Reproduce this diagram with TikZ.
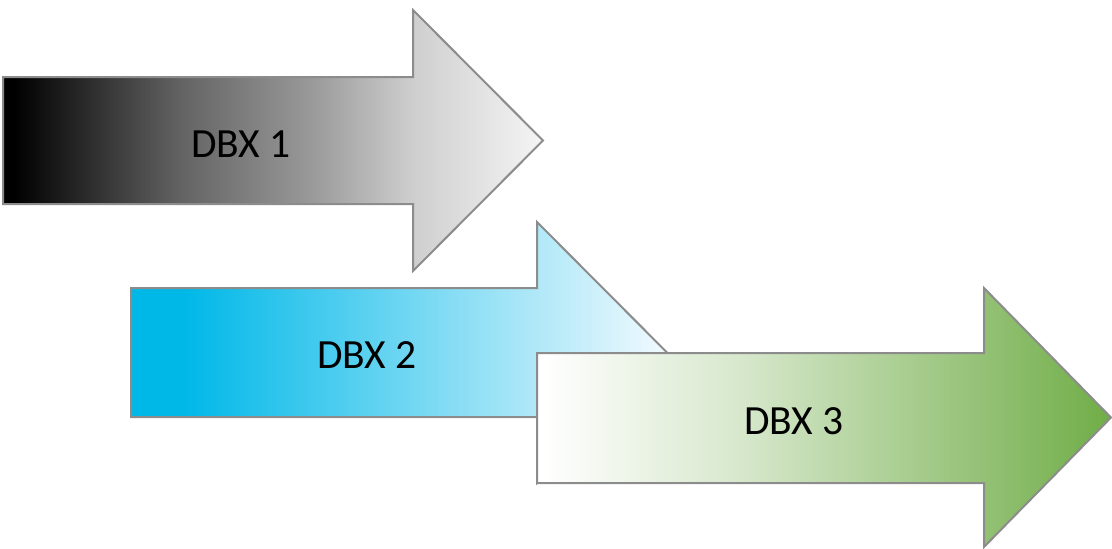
\documentclass[tikz,border=0pt]{standalone}
\usepackage{fontspec}
\setmainfont{Carlito}

% fill colours for the three arrows
\definecolor{edgegray}{HTML}{8C8C8C}
\definecolor{cyanA}{HTML}{00B8E8}
\definecolor{cyanW}{HTML}{F2FAFE}
\definecolor{greenA}{HTML}{70AD47}
\definecolor{greenL}{HTML}{D6E7CB}

% horizontal fades: the path spans 25bp .. 75bp of each shading
\pgfdeclarehorizontalshading{grayfade}{100bp}{%
  color(0bp)=(black); color(26bp)=(black);
  color(41.5bp)=(black!61); color(53.5bp)=(black!40);
  color(63bp)=(black!19); color(75bp)=(black!4); color(100bp)=(black!4)}
\pgfdeclarehorizontalshading{cyanfade}{100bp}{%
  color(0bp)=(cyanA); color(30bp)=(cyanA);
  color(75bp)=(cyanW); color(100bp)=(cyanW)}
\pgfdeclarehorizontalshading{greenfade}{100bp}{%
  color(0bp)=(white); color(25.5bp)=(white);
  color(43bp)=(greenL); color(75bp)=(greenA); color(100bp)=(greenA)}

\tikzset{
  blockarrow/.style={draw=edgegray, line width=2pt, line join=miter},
  caption/.style={anchor=base, inner sep=0pt, text=black,
    font=\fontsize{41.5}{50}\selectfont}
}

\begin{document}
\begin{tikzpicture}[x=1pt, y=-1pt]
  \useasboundingbox (0,0) rectangle (1112,549);

  % DBX 1 arrow
  \shade[blockarrow, shading=grayfade]
    (3,77) -- (413,77) -- (413,10) -- (543,140.5) -- (413,271)
    -- (413,204) -- (3,204) -- cycle;
  \node[caption] (dbx1) at (241,157) {DBX 1};

  % DBX 2 arrow
  \shade[blockarrow, shading=cyanfade]
    (131,288) -- (537,288) -- (537,222) -- (667,352.5) -- (537,483)
    -- (537,417) -- (131,417) -- cycle;
  \node[caption] (dbx2) at (367,368) {DBX 2};

  % DBX 3 arrow, lying over the head of DBX 2
  \shade[blockarrow, shading=greenfade]
    (537,353) -- (984,353) -- (984,288) -- (1111,417.5) -- (984,547)
    -- (984,483) -- (537,483) -- cycle;
  \node[caption] (dbx3) at (794,434) {DBX 3};
\end{tikzpicture}
\end{document}
